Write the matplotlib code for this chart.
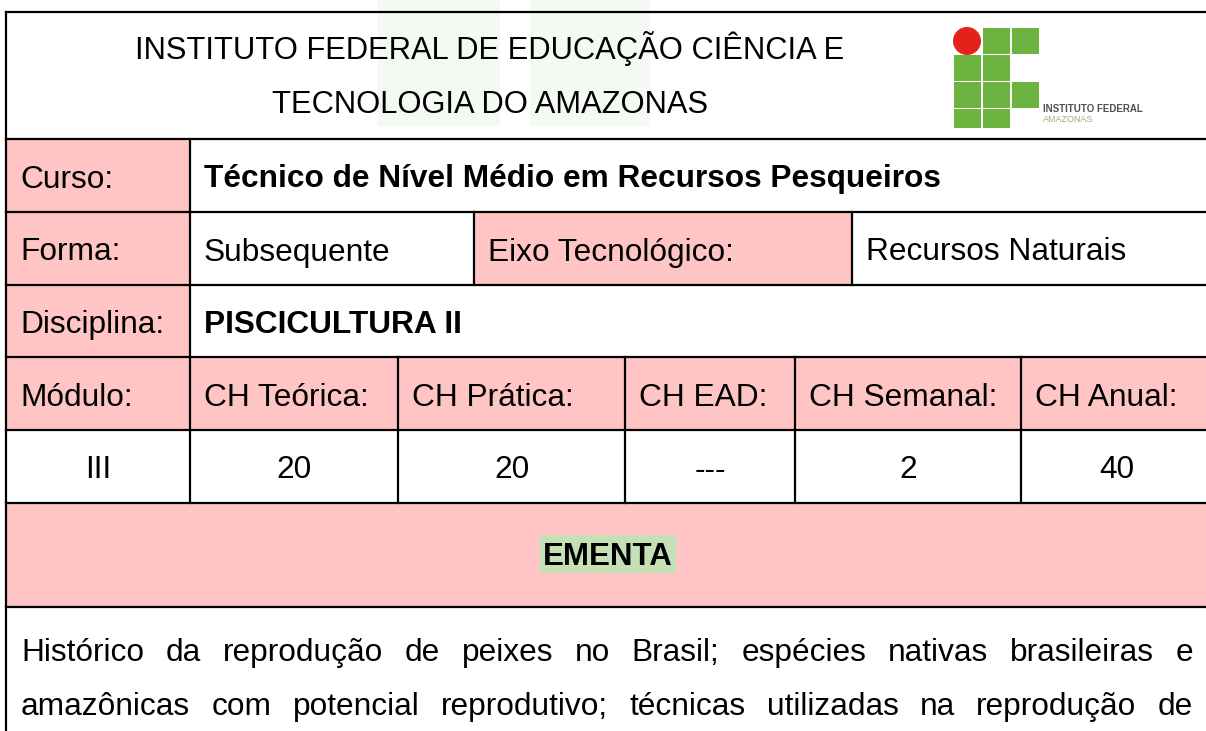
import matplotlib
matplotlib.use("Agg")
import matplotlib.pyplot as plt
from matplotlib.patches import Rectangle, Circle

plt.rcParams['font.family'] = ['Liberation Sans', 'DejaVu Sans']

# ---- content -------------------------------------------------------------
title_lines = ["INSTITUTO FEDERAL DE EDUCAÇÃO CIÊNCIA E", "TECNOLOGIA DO AMAZONAS"]
curso_label = "Curso:"
curso_value = "Técnico de Nível Médio em Recursos Pesqueiros"
forma_label = "Forma:"
forma_value = "Subsequente"
eixo_label = "Eixo Tecnológico:"
eixo_value = "Recursos Naturais"
disc_label = "Disciplina:"
disc_value = "PISCICULTURA II"
ch_headers = ["Módulo:", "CH Teórica:", "CH Prática:", "CH EAD:", "CH Semanal:", "CH Anual:"]
ch_values = ["III", "20", "20", "---", "2", "40"]
ementa_title = "EMENTA"
ementa_lines = [
    "Histórico da reprodução de peixes no Brasil; espécies nativas brasileiras e",
    "amazônicas com potencial reprodutivo; técnicas utilizadas na reprodução de",
]
logo_caption = ["INSTITUTO FEDERAL", "AMAZONAS"]

# ---- layout (pixels) -----------------------------------------------------
W, H = 1206, 731
PINK = '#ffc4c4'
HILITE = '#c5e0b4'
FS = 22.8
LW = 1.6
left, right = 6, 1212
row_y = [12, 139, 212, 285, 357, 430, 503, 607, 760]
col1 = 190
forma_cols = [left, col1, 474, 852, right]
ch_cols = [left, col1, 398, 625, 795, 1021, right]
pad = 14

fig = plt.figure(figsize=(W / 100, H / 100), dpi=100)
ax = fig.add_axes([0, 0, 1, 1])
ax.set_xlim(0, W)
ax.set_ylim(H, 0)
ax.axis('off')


def cell(x0, x1, r, text='', fill='white', bold=False, ha='left'):
    y0, y1 = row_y[r], row_y[r + 1]
    ax.add_patch(Rectangle((x0, y0), x1 - x0, y1 - y0, facecolor=fill,
                           edgecolor='none', zorder=1))
    if text:
        yb = (y0 + y1) / 2 + 12
        tx = x0 + pad if ha == 'left' else (x0 + x1) / 2
        ax.text(tx, yb, text, fontsize=FS, ha=ha, va='baseline',
                fontweight='bold' if bold else 'normal', zorder=3)


# header
cell(left, right, 0)
# very faint watermark behind the header
for x0, x1 in [(377, 500), (530, 650)]:
    ax.add_patch(Rectangle((x0, 0), x1 - x0, 126, facecolor='#f4f9f3',
                           edgecolor='none', zorder=1.5))
for i, t in enumerate(title_lines):
    ax.text(490, 59 + i * 54, t, fontsize=22.2, ha='center', va='baseline', zorder=3)

# logo
green = '#6cb33f'
logo_x = [954, 983, 1012]
logo_y = [28, 55, 82, 109]
logo_grid = [[0, 1, 1], [1, 1, 0], [1, 1, 1], [1, 1, 0]]
for r, row in enumerate(logo_grid):
    for c, on in enumerate(row):
        if on:
            h = 26 if r < 3 else 19
            ax.add_patch(Rectangle((logo_x[c], logo_y[r]), 27, h,
                                   facecolor=green, edgecolor='none', zorder=2))
ax.add_patch(Circle((967, 41), 14, facecolor='#e32219', edgecolor='none', zorder=2))
ax.text(1043, 112, logo_caption[0], fontsize=7, color='#505050',
        fontweight='bold', va='baseline', zorder=3)
ax.text(1043, 122, logo_caption[1], fontsize=6.5, color='#a8a888',
        va='baseline', zorder=3)

# rows
cell(left, col1, 1, curso_label, PINK)
cell(col1, right, 1, curso_value, bold=True)

cell(forma_cols[0], forma_cols[1], 2, forma_label, PINK)
cell(forma_cols[1], forma_cols[2], 2, forma_value)
cell(forma_cols[2], forma_cols[3], 2, eixo_label, PINK)
cell(forma_cols[3], forma_cols[4], 2, eixo_value)

cell(left, col1, 3, disc_label, PINK)
cell(col1, right, 3, disc_value, bold=True)

for i, t in enumerate(ch_headers):
    cell(ch_cols[i], ch_cols[i + 1], 4, t, PINK)
for i, t in enumerate(ch_values):
    cell(ch_cols[i], ch_cols[i + 1], 5, t, ha='center')

# EMENTA
cell(left, right, 6, fill=PINK)
ax.add_patch(Rectangle((540, 535), 136, 38, facecolor=HILITE, edgecolor='none', zorder=2))
ax.text(608, 565, ementa_title, fontsize=22.5, fontweight='bold', ha='center',
        va='baseline', zorder=3)

# paragraph, justified
cell(left, right, 7)
fig.canvas.draw()
renderer = fig.canvas.get_renderer()
px0, px1 = 21, 1193
for li, line in enumerate(ementa_lines):
    words = line.split(' ')
    yb = 661 + li * 54
    texts = [ax.text(0, yb, w, fontsize=FS, va='baseline', zorder=3) for w in words]
    widths = [t.get_window_extent(renderer).width for t in texts]
    gap = (px1 - px0 - sum(widths)) / (len(words) - 1)
    x = px0
    for t, w in zip(texts, widths):
        t.set_x(x)
        x += w + gap

# grid lines
lkw = dict(color='black', lw=LW, zorder=4, solid_capstyle='projecting')
for y in row_y[:-1]:
    ax.plot([left, right], [y, y], **lkw)
ax.plot([left, left], [row_y[0], H + 5], **lkw)
ax.plot([col1, col1], [row_y[1], row_y[4]], **lkw)
for x in forma_cols[2:4]:
    ax.plot([x, x], [row_y[2], row_y[3]], **lkw)
for x in ch_cols[1:-1]:
    ax.plot([x, x], [row_y[4], row_y[6]], **lkw)

fig.savefig('out.png', dpi=100)
